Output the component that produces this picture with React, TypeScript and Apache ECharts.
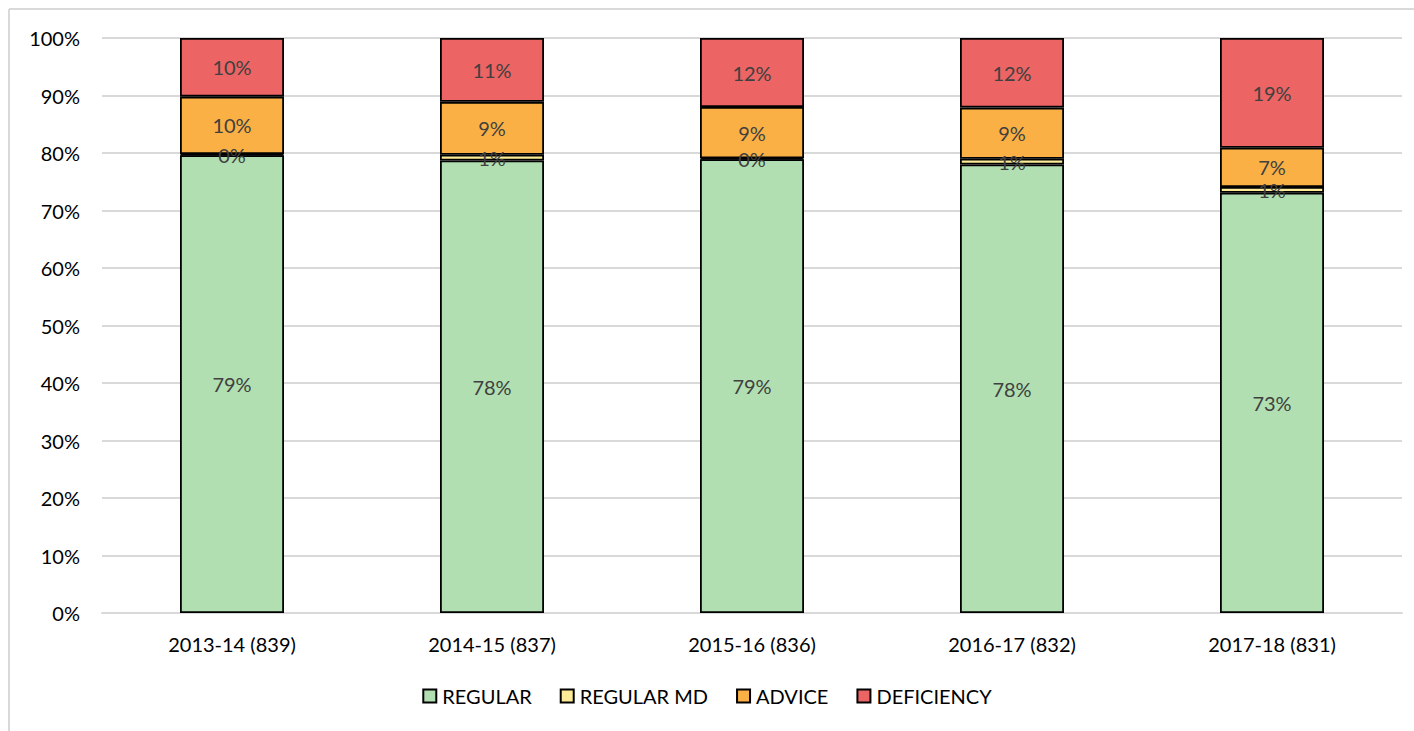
import React, { useEffect, useRef } from "react";
import * as echarts from "echarts";

const categories = ["2013-14 (839)", "2014-15 (837)", "2015-16 (836)", "2016-17 (832)", "2017-18 (831)"];
const regular = [79.6, 78.7, 78.9, 78.0, 73.1];
const regularMd = [0.2, 1.0, 0.2, 1.0, 1.0];
const advice = [10.0, 9.2, 8.9, 8.9, 6.8];
const deficiency = [10.2, 11.1, 12.0, 12.1, 19.1];
const regularLabels = ["79%", "78%", "79%", "78%", "73%"];
const regularMdLabels = ["0%", "1%", "0%", "1%", "1%"];
const adviceLabels = ["10%", "9%", "9%", "9%", "7%"];
const deficiencyLabels = ["10%", "11%", "12%", "12%", "19%"];
const yTicks = [0, 10, 20, 30, 40, 50, 60, 70, 80, 90, 100];

const FONT = "Lato, 'Open Sans', sans-serif";

export default function App() {
  const ref = useRef<HTMLDivElement>(null);
  useEffect(() => {
    if (!ref.current) return;
    const chart = echarts.init(ref.current, null, { renderer: "svg" });
    const mk = (name: string, data: number[], labels: string[], color: string) => ({
      name,
      type: "bar",
      stack: "total",
      barWidth: "40%",
      data,
      itemStyle: { color, borderColor: "#000", borderWidth: 1.8 },
      label: {
        show: true,
        position: "inside",
        formatter: (p: any) => labels[p.dataIndex],
        color: "#404040",
        fontSize: 20,
        fontFamily: FONT,
      },
    });
    chart.setOption({
      animation: false,
      backgroundColor: "#fff",
      textStyle: { fontFamily: FONT },
      grid: { left: 102, right: 12, top: 38, bottom: 118 },
      legend: {
        bottom: 20,
        left: "center",
        itemWidth: 13,
        itemHeight: 13,
        itemGap: 28,
        icon: "rect",
        textStyle: { fontSize: 20, color: "#000", fontFamily: FONT, padding: [0, 0, 0, 1] },
        data: ["REGULAR", "REGULAR MD", "ADVICE", "DEFICIENCY"],
      },
      xAxis: {
        type: "category",
        data: categories,
        axisLine: { lineStyle: { color: "#d9d9d9", width: 2 } },
        axisTick: { show: false },
        axisLabel: { color: "#000", fontSize: 20, margin: 21, fontFamily: FONT },
      },
      yAxis: {
        type: "value",
        min: yTicks[0],
        max: yTicks[yTicks.length - 1],
        interval: 10,
        axisLine: { show: false },
        axisTick: { show: false },
        splitLine: { lineStyle: { color: "#d9d9d9", width: 2 } },
        axisLabel: { color: "#000", fontSize: 20, margin: 22, formatter: "{value}%", fontFamily: FONT },
      },
      graphic: [
        { type: "line", shape: { x1: 9, y1: 9, x2: 1414, y2: 9 }, style: { stroke: "#d9d9d9", lineWidth: 2 } },
        { type: "line", shape: { x1: 9, y1: 9, x2: 9, y2: 731 }, style: { stroke: "#d9d9d9", lineWidth: 2 } },
      ],
      series: [
        mk("REGULAR", regular, regularLabels, "#b1dfb1"),
        mk("REGULAR MD", regularMd, regularMdLabels, "#fcec98"),
        mk("ADVICE", advice, adviceLabels, "#fbb045"),
        mk("DEFICIENCY", deficiency, deficiencyLabels, "#ec6464"),
      ],
    });
    return () => chart.dispose();
  }, []);
  return (
    <div
      ref={ref}
      style={{ position: "fixed", left: 0, top: 0, width: 1414, height: 731 }}
    />
  );
}
